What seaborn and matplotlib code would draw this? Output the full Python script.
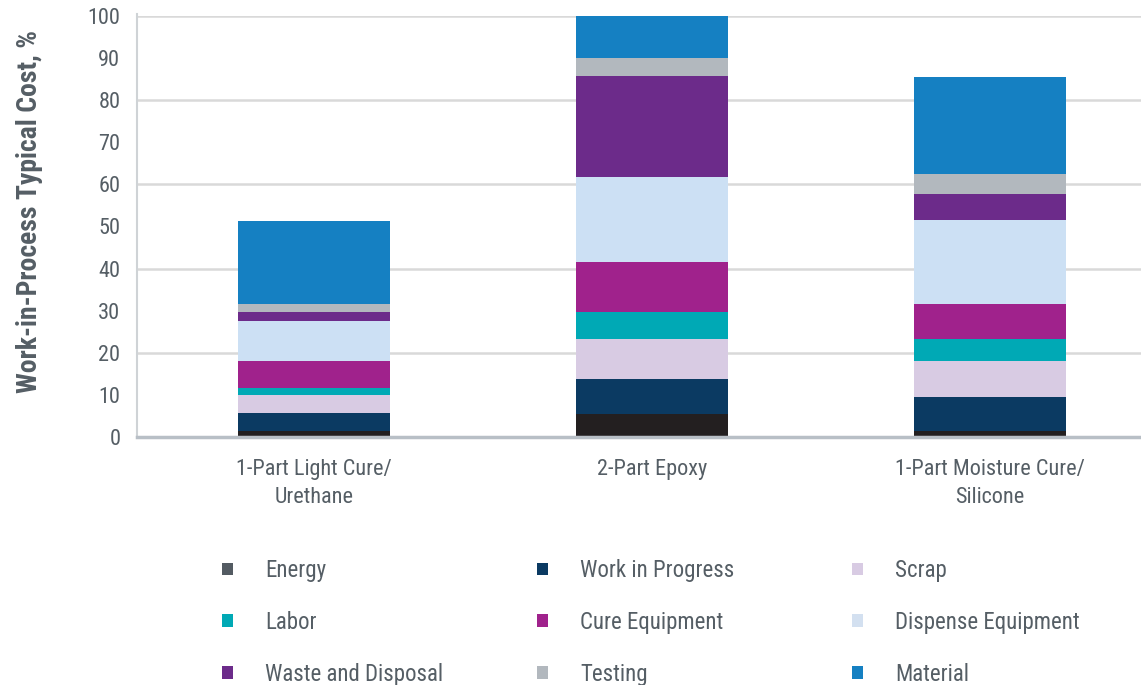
import matplotlib
matplotlib.use('Agg')
import matplotlib.pyplot as plt
from matplotlib.patches import Patch
from matplotlib import font_manager
import seaborn as sns
import pandas as pd

# Dados
categories = ['1-Part Light Cure/\nUrethane', '2-Part Epoxy', '1-Part Moisture Cure/\nSilicone']
components = ['Energy', 'Work in Progress', 'Scrap', 'Labor', 'Cure Equipment',
              'Dispense Equipment', 'Waste and Disposal', 'Testing', 'Material']
energy = [1.4, 5.5, 1.4]
work_in_progress = [4.3, 8.3, 8.1]
scrap = [4.3, 9.5, 8.6]
labor = [1.6, 6.4, 5.2]
cure_equipment = [6.4, 11.9, 8.3]
dispense_equipment = [9.5, 20.2, 19.9]
waste_disposal = [2.1, 23.9, 6.2]
testing = [1.9, 4.3, 4.8]
material = [19.9, 10.0, 23.0]

bar_colors = ['#231f20', '#0b3a62', '#d8cbe3', '#00a9b5', '#a0228c',
              '#cce0f4', '#6c2b8a', '#b2b8be', '#1580c2']
legend_colors = ['#535b62', '#0b3a62', '#d8cbe3', '#00a9b5', '#a0228c',
                 '#d3e0f0', '#6c2b8a', '#b2b8be', '#1580c2']

df = pd.DataFrame({
    'Energy': energy, 'Work in Progress': work_in_progress, 'Scrap': scrap,
    'Labor': labor, 'Cure Equipment': cure_equipment,
    'Dispense Equipment': dispense_equipment, 'Waste and Disposal': waste_disposal,
    'Testing': testing, 'Material': material,
}, index=categories)

sns.set_style('white')
names = {f.name for f in font_manager.fontManager.ttflist}
fam = 'Roboto'
for cand in ['Roboto Condensed', 'Liberation Sans Narrow', 'DejaVu Sans Condensed', 'Roboto']:
    if cand in names:
        fam = cand
        break
plt.rcParams['font.family'] = [fam, 'DejaVu Sans']
text_color = '#555e65'
fs_tick = 16
fs_leg = 16.5

fig = plt.figure(figsize=(11.41, 6.85), dpi=100)
ax = fig.add_axes([137 / 1141, 1 - 437 / 685, 1 - 137 / 1141, (437 - 16) / 685])

for v in range(20, 101, 20):
    ax.axhline(v, color='#d9d9d9', lw=1.8, zorder=0)

bottom = pd.Series(0.0, index=categories)
for comp, col in zip(components, bar_colors):
    sns.barplot(x=list(categories), y=df[comp].values, bottom=bottom.values,
                color=col, width=0.45, saturation=1, linewidth=0, edgecolor='none',
                ax=ax, zorder=2)
    bottom = bottom + df[comp]

ax.set_ylim(0, 100)
ax.set_xlim(-0.524, 2.447)
ax.set_yticks(range(0, 101, 10))
ax.tick_params(axis='both', length=0, labelsize=fs_tick, colors=text_color)
ax.tick_params(axis='y', pad=12)
ax.tick_params(axis='x', pad=16)
for lbl in ax.get_xticklabels():
    lbl.set_linespacing(1.4)

ax.spines['top'].set_visible(False)
ax.spines['right'].set_visible(False)
ax.spines['left'].set_color('#cfd3d6')
ax.spines['left'].set_linewidth(1.5)
ax.spines['left'].set_bounds(0, 100.5)
ax.spines['bottom'].set_color('#b8bfc6')
ax.spines['bottom'].set_linewidth(2.5)
ax.set_ylabel('')
ax.set_xlabel('')

fig.text(30 / 1141, 1 - 212 / 685, 'Work-in-Process Typical Cost, %', rotation=90,
         ha='center', va='center', fontsize=20, fontweight='bold', color=text_color)

# Legenda: uma coluna por chamada, para fixar a posição de cada coluna
col_x = [206, 521, 836]
for c in range(3):
    idx = [r * 3 + c for r in range(3)]
    handles = [Patch(facecolor=legend_colors[i], edgecolor='none') for i in idx]
    labels = [components[i] for i in idx]
    fig.legend(handles, labels, loc='upper left',
               bbox_to_anchor=(col_x[c] / 1141, 1 - 543 / 685), frameon=False,
               fontsize=fs_leg, labelcolor=text_color, handlelength=0.48,
               handleheight=0.48, handletextpad=1.4, labelspacing=1.26, borderpad=0.2)

fig.savefig('out.png', dpi=100)
